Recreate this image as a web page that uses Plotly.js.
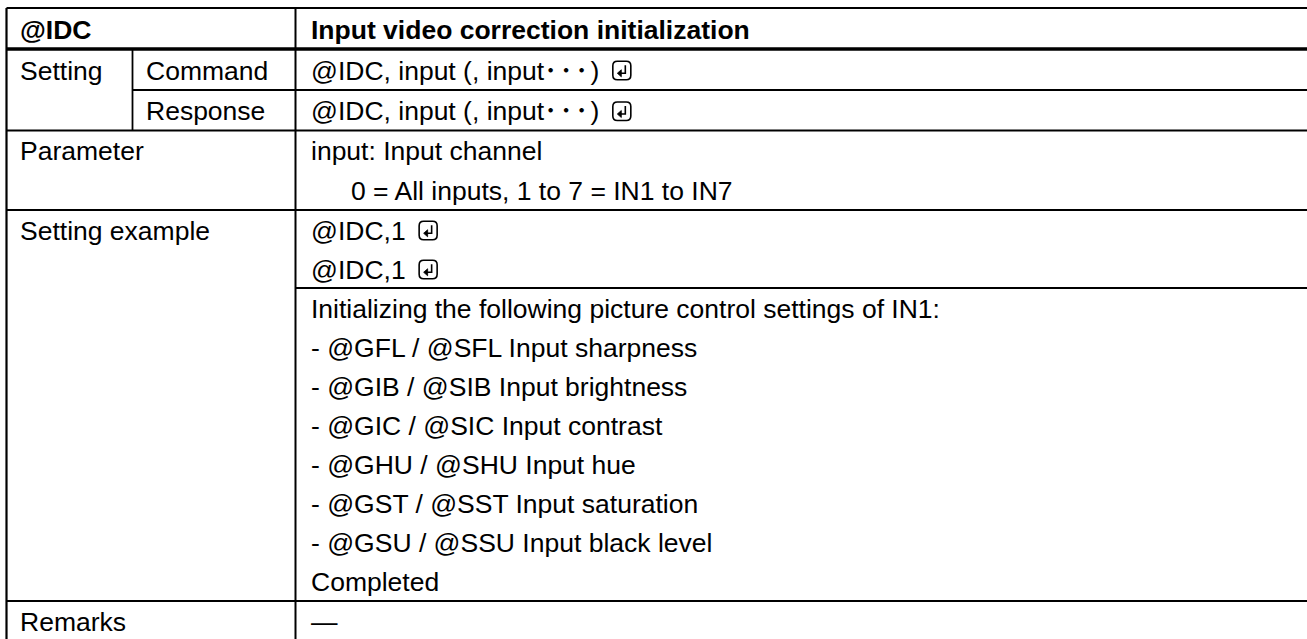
<!DOCTYPE html>
<html>
<head>
<meta charset="utf-8">
<script src="https://cdn.plot.ly/plotly-3.0.1.min.js"></script>
<style>
  html, body { margin: 0; padding: 0; background: #ffffff; }
  #chart { width: 1307px; height: 639px; }
</style>
</head>
<body>
<div id="chart"></div>
<script>
// ---------------- data ----------------
const headerCells = ["@IDC", "Input video correction initialization"];
const settingLabel = "Setting";
const settingSubLabels = ["Command", "Response"];
const settingValues = ["@IDC, input (, input･\u200A･\u200A･\u200A)", "@IDC, input (, input･\u200A･\u200A･\u200A)"];
const parameterLabel = "Parameter";
const parameterLines = ["input: Input channel", "0 = All inputs, 1 to 7 = IN1 to IN7"];
const parameterIndent = [false, true];
const exampleLabel = "Setting example";
const exampleCommands = ["@IDC,1", "@IDC,1"];
const exampleNotes = [
  "Initializing the following picture control settings of IN1:",
  "- @GFL / @SFL Input sharpness",
  "- @GIB / @SIB Input brightness",
  "- @GIC / @SIC Input contrast",
  "- @GHU / @SHU Input hue",
  "- @GST / @SST Input saturation",
  "- @GSU / @SSU Input black level",
  "Completed"
];
const remarksLabel = "Remarks";
const remarksValue = "—";

// ---------------- layout geometry ----------------
const W = 1307, H = 639;
const FONT = "Liberation Sans, Arial, Noto Sans CJK JP, sans-serif";
const FS = 26.5;
const xLeft = 6.5, xSub = 132.5, xVal = 295.5, xRight = 1320;
const yTop = 8, yHead = 49, yCmd = 90, yResp = 130.5, yParam = 210, yExCmd = 288, yExample = 601, yBottom = 660;
const padL = 11, padSub = 11, padVal = 13, indent = 40;
const textDy = 1;

const shapes = [];
const annotations = [];
function hline(x0, x1, y, w) {
  shapes.push({type: "line", xref: "x", yref: "y", x0: x0, x1: x1, y0: y, y1: y,
               line: {color: "#000", width: w}});
}
function vline(x, y0, y1, w) {
  shapes.push({type: "line", xref: "x", yref: "y", x0: x, x1: x, y0: y0, y1: y1,
               line: {color: "#000", width: w}});
}
function text(x, y, s, bold) {
  annotations.push({xref: "x", yref: "y", x: x, y: y + textDy, text: bold ? "<b>" + s + "</b>" : s,
    showarrow: false, xanchor: "left", yanchor: "middle",
    font: {family: FONT, size: FS, color: "#000"}});
}
// measure text width to place the enter-mark glyph
const ctx = document.createElement("canvas").getContext("2d");
ctx.font = FS + "px " + FONT.split(", ").map(f => f.includes(" ") ? '"' + f + '"' : f).join(", ");
function enterMark(x, yc) {
  const w = 18, h = 18.5, r = 4.5;
  const x0 = x, x1 = x + w, y0 = yc - h / 2 + textDy, y1 = yc + h / 2 + textDy;
  const p = `M${x0 + r},${y0} L${x1 - r},${y0} Q${x1},${y0} ${x1},${y0 + r} L${x1},${y1 - r} Q${x1},${y1} ${x1 - r},${y1} ` +
            `L${x0 + r},${y1} Q${x0},${y1} ${x0},${y1 - r} L${x0},${y0 + r} Q${x0},${y0} ${x0 + r},${y0} Z`;
  shapes.push({type: "path", xref: "x", yref: "y", path: p, line: {color: "#000", width: 1.6}});
  const ax = x0 + 12.5, ay0 = y0 + 4, ay1 = y0 + 12, bx = x0 + 5;
  shapes.push({type: "path", xref: "x", yref: "y", path: `M${ax},${ay0} L${ax},${ay1} L${bx + 2},${ay1}`,
               line: {color: "#000", width: 1.6}});
  shapes.push({type: "path", xref: "x", yref: "y",
               path: `M${bx - 0.5},${ay1} L${bx + 3.5},${ay1 - 3.5} L${bx + 3.5},${ay1 + 3.5} Z`,
               fillcolor: "#000", line: {color: "#000", width: 0.8}});
}
function textWithEnter(x, y, s) {
  text(x, y, s, false);
  const w = ctx.measureText(s).width;
  enterMark(x + w + 16, y);
}

// ---- lines ----
hline(xLeft, xRight, yTop, 2);
hline(xLeft, xRight, yHead, 3.5);
hline(xSub, xRight, yCmd, 1.8);
hline(xLeft, xRight, yResp, 1.8);
hline(xLeft, xRight, yParam, 1.8);
hline(xVal, xRight, yExCmd, 1.8);
hline(xLeft, xRight, yExample, 2.2);
vline(xLeft, yTop, yBottom, 2.2);
vline(xSub, yHead, yResp, 1.8);
vline(xVal, yTop, yBottom, 2);

// ---- header ----
text(xLeft + padL, (yTop + yHead) / 2, headerCells[0], true);
text(xVal + padVal, (yTop + yHead) / 2, headerCells[1], true);

// ---- setting ----
const subEdges = [yHead, yCmd, yResp];
text(xLeft + padL, (yHead + yCmd) / 2, settingLabel, false);
settingSubLabels.forEach((s, i) => {
  const yc = (subEdges[i] + subEdges[i + 1]) / 2;
  text(xSub + padSub, yc, s, false);
  textWithEnter(xVal + padVal, yc, settingValues[i]);
});

// ---- parameter ----
const pPitch = (yParam - yResp) / parameterLines.length;
text(xLeft + padL, yResp + pPitch / 2, parameterLabel, false);
parameterLines.forEach((s, i) => {
  text(xVal + padVal + (parameterIndent[i] ? indent : 0), yResp + pPitch * (i + 0.5), s, false);
});

// ---- setting example ----
const cPitch = (yExCmd - yParam) / exampleCommands.length;
text(xLeft + padL, yParam + cPitch / 2, exampleLabel, false);
exampleCommands.forEach((s, i) => textWithEnter(xVal + padVal, yParam + cPitch * (i + 0.5), s));
const nPitch = (yExample - yExCmd) / exampleNotes.length;
exampleNotes.forEach((s, i) => text(xVal + padVal, yExCmd + nPitch * (i + 0.5), s, false));

// ---- remarks ----
const rY = yExample + 19.5;
text(xLeft + padL, rY, remarksLabel, false);
text(xVal + padVal, rY, remarksValue, false);

Plotly.newPlot("chart", [], {
  width: W, height: H,
  margin: {l: 0, r: 0, t: 0, b: 0},
  paper_bgcolor: "#ffffff", plot_bgcolor: "#ffffff",
  showlegend: false,
  xaxis: {range: [0, W], visible: false, fixedrange: true},
  yaxis: {range: [H, 0], visible: false, fixedrange: true},
  shapes: shapes,
  annotations: annotations
}, {staticPlot: true, displayModeBar: false});
</script>
</body>
</html>
